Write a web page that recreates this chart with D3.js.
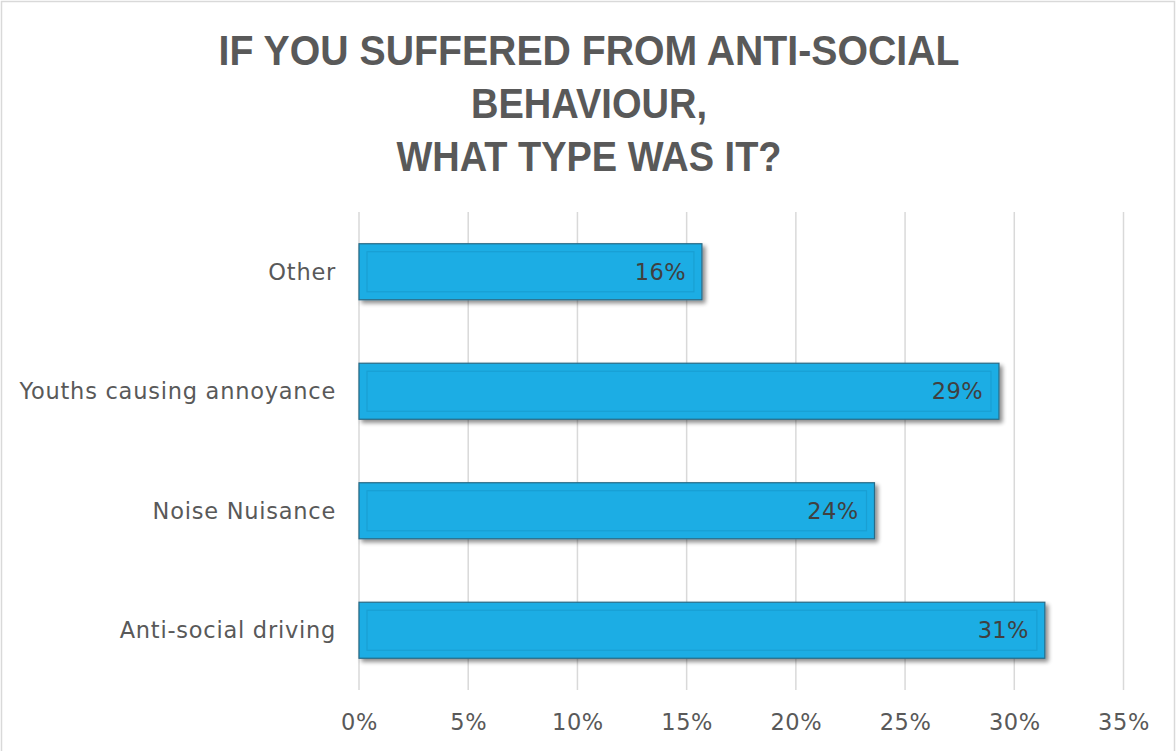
<!DOCTYPE html>
<html>
<head>
<meta charset="utf-8">
<script src="https://cdn.jsdelivr.net/npm/d3@7"></script>
<style>
  html, body { margin: 0; padding: 0; background: #fff; }
  svg { display: block; }
</style>
</head>
<body>
<svg id="chart" width="1176" height="751"></svg>
<script>
// ---- data ----
const titleLines = ["IF YOU SUFFERED FROM ANTI-SOCIAL", "BEHAVIOUR,", "WHAT TYPE WAS IT?"];
const categories = ["Other", "Youths causing annoyance", "Noise Nuisance", "Anti-social driving"];
const values = [15.7, 29.3, 23.6, 31.4];
const valueLabels = ["16%", "29%", "24%", "31%"];
const tickValues = [0, 5, 10, 15, 20, 25, 30, 35];

const svg = d3.select("#chart");
const W = 1176, H = 751;

// frame
svg.append("rect").attr("x", 1.5).attr("y", 1.5).attr("width", W - 3).attr("height", H + 10)
  .attr("fill", "#fff").attr("stroke", "#d9d9d9").attr("stroke-width", 1.5);

// shadow filter
const defs = svg.append("defs");
const f = defs.append("filter").attr("id", "shadow").attr("x", "-5%").attr("y", "-20%").attr("width", "115%").attr("height", "150%");
f.append("feGaussianBlur").attr("in", "SourceAlpha").attr("stdDeviation", 2.2).attr("result", "b");
f.append("feOffset").attr("in", "b").attr("dx", 2.5).attr("dy", 3).attr("result", "o");
f.append("feComponentTransfer").attr("in", "o").attr("result", "s")
  .append("feFuncA").attr("type", "linear").attr("slope", 0.45);
const m = f.append("feMerge");
m.append("feMergeNode").attr("in", "s");
m.append("feMergeNode").attr("in", "SourceGraphic");

// title
const titleWidths = [741, 236, 385];
const title = svg.append("g");
titleLines.forEach((t, i) => {
  title.append("text")
    .attr("x", 589).attr("y", 65 + i * 53)
    .attr("text-anchor", "middle")
    .attr("font-family", "'Liberation Sans', Arial, sans-serif")
    .attr("font-weight", "bold")
    .attr("font-size", 43)
    .attr("fill", "#595959")
    .attr("textLength", titleWidths[i])
    .attr("lengthAdjust", "spacingAndGlyphs")
    .text(t);
});

// scales
const x = d3.scaleLinear().domain([0, 35]).range([359, 1123.5]);
const y = d3.scaleBand().domain(categories).range([212, 690]).paddingInner(0.531).paddingOuter(0.2655);

// gridlines
svg.append("g").selectAll("line").data(tickValues).join("line")
  .attr("x1", d => x(d)).attr("x2", d => x(d))
  .attr("y1", 212).attr("y2", 690)
  .attr("stroke", "#d9d9d9").attr("stroke-width", 1.5);

// x axis labels
const xAxis = d3.axisBottom(x).tickValues(tickValues).tickFormat(d => d + "%").tickSize(0).tickPadding(0);
const xg = svg.append("g").attr("transform", "translate(0,713)").call(xAxis);
xg.select(".domain").remove();
xg.selectAll("text")
  .attr("dy", 0).attr("y", 17)
  .attr("font-family", "'DejaVu Sans', sans-serif")
  .attr("font-size", 22.5)
  .attr("letter-spacing", 0.6)
  .attr("fill", "#595959");

// y axis labels
const yAxis = d3.axisLeft(y).tickSize(0).tickPadding(0);
const yg = svg.append("g").attr("transform", "translate(336,0)").call(yAxis);
yg.select(".domain").remove();
yg.selectAll("text")
  .attr("x", 0).attr("dy", "0.35em")
  .attr("font-family", "'DejaVu Sans', sans-serif")
  .attr("font-size", 22.5)
  .attr("letter-spacing", 0.75)
  .attr("fill", "#595959");

// bars
const data = categories.map((c, i) => ({ c, v: values[i], l: valueLabels[i] }));
const bars = svg.append("g").selectAll("g").data(data).join("g");
bars.append("rect")
  .attr("x", x(0)).attr("y", d => y(d.c))
  .attr("width", d => x(d.v) - x(0)).attr("height", y.bandwidth())
  .attr("fill", "#1aade4")
  .attr("stroke", "#2a6a86").attr("stroke-width", 1.2)
  .attr("filter", "url(#shadow)");
bars.append("rect")
  .attr("x", x(0) + 8).attr("y", d => y(d.c) + 8)
  .attr("width", d => x(d.v) - x(0) - 16).attr("height", y.bandwidth() - 16)
  .attr("fill", "none")
  .attr("stroke", "#199fd3").attr("stroke-width", 1.2);
bars.append("text")
  .attr("x", d => x(d.v) - 16)
  .attr("y", d => y(d.c) + y.bandwidth() / 2)
  .attr("dy", "0.36em")
  .attr("text-anchor", "end")
  .attr("font-family", "'DejaVu Sans', sans-serif")
  .attr("font-size", 22.5)
  .attr("letter-spacing", 0.4)
  .attr("fill", "#404040")
  .text(d => d.l);
</script>
</body>
</html>
